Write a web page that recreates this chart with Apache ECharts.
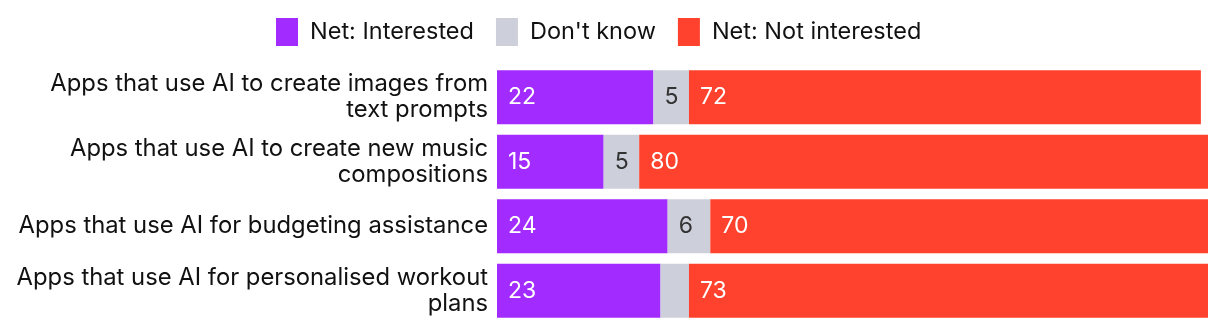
<!DOCTYPE html>
<html><head><meta charset="utf-8">
<script src="https://cdn.jsdelivr.net/npm/echarts@6/dist/echarts.min.js"></script>
<style>html,body{margin:0;padding:0;background:#fff}#c{width:1220px;height:330px}</style>
</head><body><div id="c"></div>
<script>
const categories = [
  "Apps that use AI to create images from\ntext prompts",
  "Apps that use AI to create new music\ncompositions",
  "Apps that use AI for budgeting assistance",
  "Apps that use AI for personalised workout\nplans"
];
const seriesNames = ["Net: Interested", "Don't know", "Net: Not interested"];
const interested = [22, 15, 24, 23];
const dontKnow = [5, 5, 6, 4];
const notInterested = [72, 80, 70, 73];
const colors = ["#A22BFF", "#CDD0DB", "#FF422D"];
const labelColors = ["#ffffff", "#333333", "#ffffff"];
const FONT = "Inter";
const FS = 23.8;

const values = [interested, dontKnow, notInterested];
const chart = echarts.init(document.getElementById('c'));
chart.setOption({
  animation: false,
  textStyle: {fontFamily: FONT},
  legend: {
    top: 13, left: 271,
    itemWidth: 22, itemHeight: 28, itemGap: 22,
    icon: 'rect',
    textStyle: {fontSize: FS - 0.3, color: '#111', fontFamily: FONT, padding: [0,0,0,7]},
    data: seriesNames
  },
  grid: {left: 497, right: 12, top: 65, height: 258, containLabel: false},
  xAxis: {type: 'value', min: 0, max: 100, show: false},
  yAxis: {
    type: 'category', inverse: true, data: categories,
    axisLine: {show: false}, axisTick: {show: false},
    axisLabel: {fontSize: FS, color: '#111', fontFamily: FONT, margin: 9, lineHeight: 26, align: 'right'}
  },
  series: values.map((v, i) => ({
    name: seriesNames[i], type: 'bar', stack: 'total',
    barCategoryGap: '16%',
    itemStyle: {color: colors[i]},
    label: {
      show: true, position: 'insideLeft', distance: 11,
      color: labelColors[i], fontSize: FS - 0.8, fontFamily: FONT,
      formatter: p => p.value >= 5 ? String(p.value) : ''
    },
    data: v
  }))
});
</script></body></html>
